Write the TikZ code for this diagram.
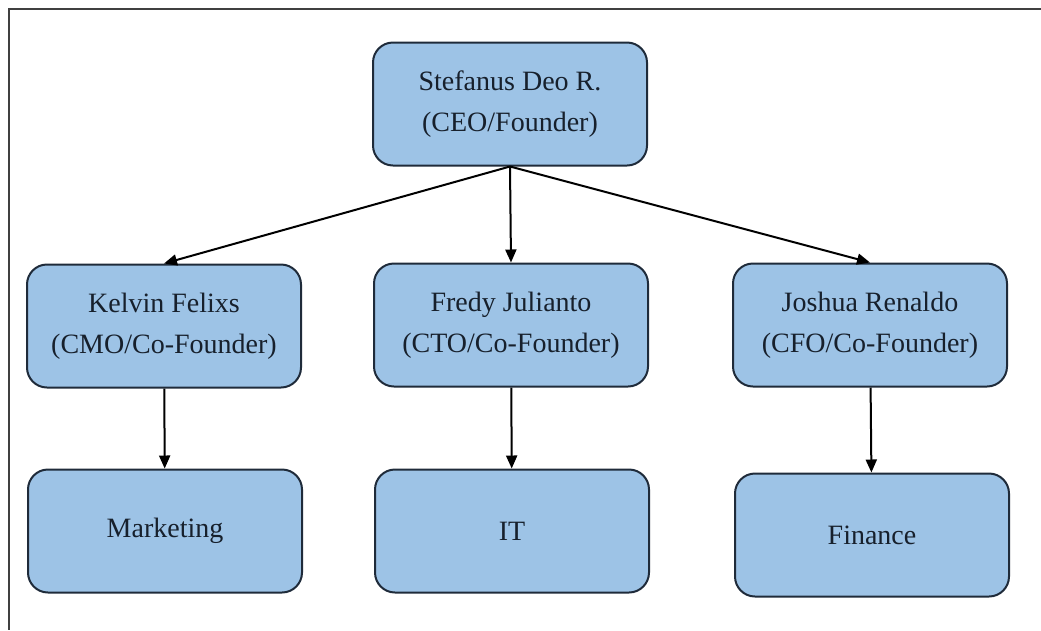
\documentclass[tikz,border=0pt]{standalone}
\usepackage{fontspec}
\setmainfont{Liberation Serif}
\usetikzlibrary{arrows.meta}
\definecolor{boxfill}{HTML}{9DC3E6}
\definecolor{boxline}{HTML}{1F2B3A}
\definecolor{boxtext}{HTML}{17202C}
\tikzset{
  orgbox/.style={shape=rectangle,rounded corners=20pt,draw=boxline,line width=2pt,
    fill=boxfill,minimum width=274pt,minimum height=123pt,align=center,
    text=boxtext,font=\fontsize{28}{41}\selectfont},
  link/.style={-{Triangle[length=13pt,width=11pt]},line width=2pt,black}
}
\begin{document}
\begin{tikzpicture}[x=1pt,y=-1pt]
\useasboundingbox (0,0) rectangle (1041,630);
\draw[line width=2pt,black!75] (1041,9) -- (9,9) -- (9,630);
\node(ceo) at (510,104)[orgbox]        {Stefanus Deo R.\\(CEO/Founder)};
\node(kelvin) at (164,326)[orgbox]     {Kelvin Felixs\\(CMO/Co-Founder)};
\node(fredy) at (511,325)[orgbox]      {Fredy Julianto\\(CTO/Co-Founder)};
\node(joshua) at (870,325)[orgbox]     {Joshua Renaldo\\(CFO/Co-Founder)};
\node(marketing) at (165,531)[orgbox]  {Marketing};
\node(it) at (512,531)[orgbox]         {IT};
\node(finance) at (872,535)[orgbox]    {Finance};
\path [link]
  (ceo.south)     edge     (kelvin.north)
  (ceo.south)     edge     (fredy.north)
  (ceo.south)     edge     (joshua.north)
  (kelvin)        edge     (marketing)
  (fredy)         edge     (it)
  (joshua)        edge     (finance);
\end{tikzpicture}
\end{document}
